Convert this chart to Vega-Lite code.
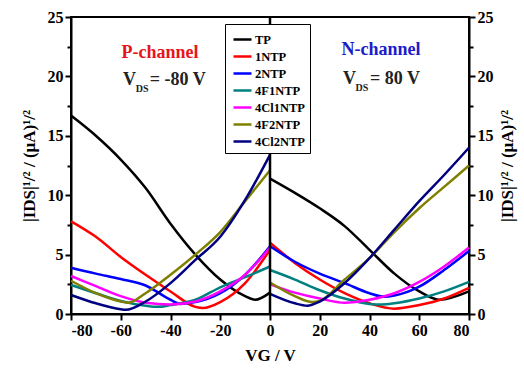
{
  "$schema": "https://vega.github.io/schema/vega-lite/v6.json",
  "width": 398,
  "height": 297,
  "autosize": {"type": "none"},
  "padding": {"left": 71, "top": 17, "right": 55, "bottom": 56},
  "background": "white",
  "datasets": {
    "curves": [
      {"s":"TP","ch":"P","V":-80,"I":16.7},{"s":"TP","ch":"P","V":-70,"I":15.0},{"s":"TP","ch":"P","V":-60,"I":13.0},{"s":"TP","ch":"P","V":-50,"I":10.6},{"s":"TP","ch":"P","V":-40,"I":7.6},{"s":"TP","ch":"P","V":-30,"I":5.0},{"s":"TP","ch":"P","V":-20,"I":2.9},{"s":"TP","ch":"P","V":-10,"I":1.5},{"s":"TP","ch":"P","V":-6,"I":1.2},{"s":"TP","ch":"P","V":0,"I":1.8},
      {"s":"TP","ch":"N","V":0,"I":11.4},{"s":"TP","ch":"N","V":10,"I":10.2},{"s":"TP","ch":"N","V":20,"I":8.9},{"s":"TP","ch":"N","V":30,"I":7.4},{"s":"TP","ch":"N","V":40,"I":5.4},{"s":"TP","ch":"N","V":50,"I":3.4},{"s":"TP","ch":"N","V":60,"I":1.9},{"s":"TP","ch":"N","V":68,"I":1.2},{"s":"TP","ch":"N","V":80,"I":1.9},
      {"s":"1NTP","ch":"P","V":-80,"I":7.8},{"s":"1NTP","ch":"P","V":-70,"I":6.5},{"s":"1NTP","ch":"P","V":-60,"I":4.8},{"s":"1NTP","ch":"P","V":-50,"I":3.3},{"s":"1NTP","ch":"P","V":-40,"I":1.9},{"s":"1NTP","ch":"P","V":-30,"I":0.6},{"s":"1NTP","ch":"P","V":-27,"I":0.5},{"s":"1NTP","ch":"P","V":-20,"I":1.0},{"s":"1NTP","ch":"P","V":-10,"I":2.6},{"s":"1NTP","ch":"P","V":0,"I":5.4},
      {"s":"1NTP","ch":"N","V":0,"I":6.0},{"s":"1NTP","ch":"N","V":10,"I":4.3},{"s":"1NTP","ch":"N","V":20,"I":2.9},{"s":"1NTP","ch":"N","V":30,"I":1.75},{"s":"1NTP","ch":"N","V":40,"I":0.9},{"s":"1NTP","ch":"N","V":50,"I":0.45},{"s":"1NTP","ch":"N","V":60,"I":0.75},{"s":"1NTP","ch":"N","V":70,"I":1.3},{"s":"1NTP","ch":"N","V":80,"I":2.2},
      {"s":"2NTP","ch":"P","V":-80,"I":3.9},{"s":"2NTP","ch":"P","V":-70,"I":3.4},{"s":"2NTP","ch":"P","V":-60,"I":2.95},{"s":"2NTP","ch":"P","V":-50,"I":2.4},{"s":"2NTP","ch":"P","V":-40,"I":1.2},{"s":"2NTP","ch":"P","V":-36,"I":0.85},{"s":"2NTP","ch":"P","V":-30,"I":1.0},{"s":"2NTP","ch":"P","V":-20,"I":1.75},{"s":"2NTP","ch":"P","V":-10,"I":3.3},{"s":"2NTP","ch":"P","V":0,"I":5.7},
      {"s":"2NTP","ch":"N","V":0,"I":5.7},{"s":"2NTP","ch":"N","V":10,"I":4.4},{"s":"2NTP","ch":"N","V":20,"I":3.4},{"s":"2NTP","ch":"N","V":30,"I":2.6},{"s":"2NTP","ch":"N","V":40,"I":1.75},{"s":"2NTP","ch":"N","V":46,"I":1.45},{"s":"2NTP","ch":"N","V":50,"I":1.55},{"s":"2NTP","ch":"N","V":60,"I":2.3},{"s":"2NTP","ch":"N","V":70,"I":3.7},{"s":"2NTP","ch":"N","V":80,"I":5.3},
      {"s":"4F1NTP","ch":"P","V":-80,"I":2.45},{"s":"4F1NTP","ch":"P","V":-70,"I":1.75},{"s":"4F1NTP","ch":"P","V":-60,"I":1.1},{"s":"4F1NTP","ch":"P","V":-50,"I":0.7},{"s":"4F1NTP","ch":"P","V":-45,"I":0.6},{"s":"4F1NTP","ch":"P","V":-40,"I":0.75},{"s":"4F1NTP","ch":"P","V":-30,"I":1.2},{"s":"4F1NTP","ch":"P","V":-20,"I":2.25},{"s":"4F1NTP","ch":"P","V":-10,"I":3.1},{"s":"4F1NTP","ch":"P","V":0,"I":4.0},
      {"s":"4F1NTP","ch":"N","V":0,"I":3.7},{"s":"4F1NTP","ch":"N","V":10,"I":2.9},{"s":"4F1NTP","ch":"N","V":20,"I":2.0},{"s":"4F1NTP","ch":"N","V":30,"I":1.3},{"s":"4F1NTP","ch":"N","V":40,"I":0.85},{"s":"4F1NTP","ch":"N","V":45,"I":0.8},{"s":"4F1NTP","ch":"N","V":50,"I":0.9},{"s":"4F1NTP","ch":"N","V":60,"I":1.3},{"s":"4F1NTP","ch":"N","V":70,"I":1.9},{"s":"4F1NTP","ch":"N","V":80,"I":2.7},
      {"s":"4Cl1NTP","ch":"P","V":-80,"I":3.2},{"s":"4Cl1NTP","ch":"P","V":-70,"I":2.35},{"s":"4Cl1NTP","ch":"P","V":-60,"I":1.5},{"s":"4Cl1NTP","ch":"P","V":-50,"I":0.95},{"s":"4Cl1NTP","ch":"P","V":-40,"I":0.8},{"s":"4Cl1NTP","ch":"P","V":-30,"I":1.05},{"s":"4Cl1NTP","ch":"P","V":-20,"I":1.9},{"s":"4Cl1NTP","ch":"P","V":-10,"I":3.3},{"s":"4Cl1NTP","ch":"P","V":0,"I":5.6},
      {"s":"4Cl1NTP","ch":"N","V":0,"I":2.5},{"s":"4Cl1NTP","ch":"N","V":10,"I":1.8},{"s":"4Cl1NTP","ch":"N","V":20,"I":1.3},{"s":"4Cl1NTP","ch":"N","V":30,"I":0.95},{"s":"4Cl1NTP","ch":"N","V":40,"I":1.2},{"s":"4Cl1NTP","ch":"N","V":50,"I":1.75},{"s":"4Cl1NTP","ch":"N","V":60,"I":2.7},{"s":"4Cl1NTP","ch":"N","V":70,"I":4.0},{"s":"4Cl1NTP","ch":"N","V":80,"I":5.6},
      {"s":"4F2NTP","ch":"P","V":-80,"I":2.8},{"s":"4F2NTP","ch":"P","V":-70,"I":1.75},{"s":"4F2NTP","ch":"P","V":-60,"I":1.05},{"s":"4F2NTP","ch":"P","V":-57,"I":0.95},{"s":"4F2NTP","ch":"P","V":-50,"I":1.75},{"s":"4F2NTP","ch":"P","V":-40,"I":3.3},{"s":"4F2NTP","ch":"P","V":-30,"I":5.0},{"s":"4F2NTP","ch":"P","V":-20,"I":6.9},{"s":"4F2NTP","ch":"P","V":-10,"I":9.5},{"s":"4F2NTP","ch":"P","V":0,"I":12.1},
      {"s":"4F2NTP","ch":"N","V":0,"I":2.65},{"s":"4F2NTP","ch":"N","V":10,"I":1.5},{"s":"4F2NTP","ch":"N","V":17,"I":1.0},{"s":"4F2NTP","ch":"N","V":20,"I":1.1},{"s":"4F2NTP","ch":"N","V":30,"I":2.9},{"s":"4F2NTP","ch":"N","V":40,"I":4.7},{"s":"4F2NTP","ch":"N","V":50,"I":6.9},{"s":"4F2NTP","ch":"N","V":60,"I":8.9},{"s":"4F2NTP","ch":"N","V":70,"I":10.7},{"s":"4F2NTP","ch":"N","V":80,"I":12.5},
      {"s":"4Cl2NTP","ch":"P","V":-80,"I":1.6},{"s":"4Cl2NTP","ch":"P","V":-70,"I":0.9},{"s":"4Cl2NTP","ch":"P","V":-60,"I":0.4},{"s":"4Cl2NTP","ch":"P","V":-58,"I":0.35},{"s":"4Cl2NTP","ch":"P","V":-50,"I":1.05},{"s":"4Cl2NTP","ch":"P","V":-40,"I":2.6},{"s":"4Cl2NTP","ch":"P","V":-30,"I":4.55},{"s":"4Cl2NTP","ch":"P","V":-20,"I":6.5},{"s":"4Cl2NTP","ch":"P","V":-10,"I":9.6},{"s":"4Cl2NTP","ch":"P","V":0,"I":13.4},
      {"s":"4Cl2NTP","ch":"N","V":0,"I":1.7},{"s":"4Cl2NTP","ch":"N","V":10,"I":0.9},{"s":"4Cl2NTP","ch":"N","V":15,"I":0.7},{"s":"4Cl2NTP","ch":"N","V":20,"I":1.05},{"s":"4Cl2NTP","ch":"N","V":30,"I":2.6},{"s":"4Cl2NTP","ch":"N","V":40,"I":4.7},{"s":"4Cl2NTP","ch":"N","V":50,"I":7.1},{"s":"4Cl2NTP","ch":"N","V":60,"I":9.5},{"s":"4Cl2NTP","ch":"N","V":70,"I":11.7},{"s":"4Cl2NTP","ch":"N","V":80,"I":14.0}
    ]
  },
  "layer": [
    {
      "data": {"name": "curves"},
      "mark": {"type": "line", "strokeWidth": 2.5, "interpolate": "monotone"},
      "encoding": {
        "x": {"field": "V", "type": "quantitative", "scale": {"domain": [-80, 80], "nice": false},
          "axis": {"title": "VG / V", "values": [-80,-70,-60,-50,-40,-30,-20,-10,0,10,20,30,40,50,60,70,80],
            "labelExpr": "datum.value % 20 === 0 ? '' + datum.value : ''",
            "tickSize": {"condition": {"test": "datum.value % 20 === 0", "value": 6}, "value": 4},
            "labelPadding": 2, "titlePadding": 9}},
        "y": {"field": "I", "type": "quantitative", "scale": {"domain": [0, 25], "nice": false},
          "axis": {"orient": "left", "title": "|IDS|¹/² / (μA)¹/²", "values": [0,2.5,5,7.5,10,12.5,15,17.5,20,22.5,25],
            "labelExpr": "datum.value % 5 === 0 ? '' + datum.value : ''",
            "tickSize": {"condition": {"test": "datum.value % 5 === 0", "value": 6}, "value": 4},
            "labelPadding": 2, "titlePadding": 9}},
        "color": {"field": "s", "type": "nominal",
          "scale": {"domain": ["TP","1NTP","2NTP","4F1NTP","4Cl1NTP","4F2NTP","4Cl2NTP"],
                    "range": ["#000000","#ff0000","#0000ff","#008080","#ff00ff","#808000","#000080"]},
          "legend": {"orient": "none", "legendX": 154, "legendY": 7, "title": null,
            "fillColor": "white", "strokeColor": "black", "padding": 5,
            "symbolType": "stroke", "symbolSize": 324, "symbolStrokeWidth": 2.5,
            "labelFont": "Liberation Serif", "labelFontWeight": "bold", "labelFontSize": 12.5, "labelColor": "black",
            "rowPadding": 0, "symbolOffset": 2, "labelOffset": 2}},
        "detail": {"field": "ch", "type": "nominal"}
      }
    },
    {
      "data": {"values": [{"V": 0}]},
      "mark": {"type": "rule", "color": "black", "strokeWidth": 2.5},
      "encoding": {"x": {"field": "V", "type": "quantitative"}}
    },
    {
      "data": {"values": [{"V": 0, "I": 0}]},
      "mark": {"type": "point", "opacity": 0},
      "encoding": {
        "x": {"field": "V", "type": "quantitative"},
        "y": {"field": "I", "type": "quantitative",
          "axis": {"orient": "right", "title": "|IDS|¹/² / (μA)¹/²", "titleAngle": 270, "titleBaseline": "top", "values": [0,2.5,5,7.5,10,12.5,15,17.5,20,22.5,25],
            "labelExpr": "datum.value % 5 === 0 ? '' + datum.value : ''",
            "tickSize": {"condition": {"test": "datum.value % 5 === 0", "value": 6}, "value": 4},
            "labelPadding": 2, "titlePadding": 6}}
      }
    },
    {
      "data": {"values": [{"V": -44.2, "I": 22.0, "t": "P-channel"}]},
      "mark": {"type": "text", "color": "#e8141c", "font": "Liberation Serif", "fontWeight": "bold", "fontSize": 18, "align": "center", "baseline": "middle"},
      "encoding": {"x": {"field": "V", "type": "quantitative"}, "y": {"field": "I", "type": "quantitative", "axis": null}, "text": {"field": "t"}}
    },
    {
      "data": {"values": [{"V": 44.6, "I": 22.2, "t": "N-channel"}]},
      "mark": {"type": "text", "color": "#1c1cc8", "font": "Liberation Serif", "fontWeight": "bold", "fontSize": 18, "align": "center", "baseline": "middle"},
      "encoding": {"x": {"field": "V", "type": "quantitative"}, "y": {"field": "I", "type": "quantitative", "axis": null}, "text": {"field": "t"}}
    },
    {
      "data": {"values": [{"V": -59.1, "I": 19.7, "t": "V"}, {"V": -48.3, "I": 19.7, "t": "= -80 V"}, {"V": 29.3, "I": 19.8, "t": "V"}, {"V": 40.2, "I": 19.8, "t": "= 80 V"}]},
      "mark": {"type": "text", "color": "#222222", "font": "Liberation Serif", "fontWeight": "bold", "fontSize": 18, "align": "left", "baseline": "middle"},
      "encoding": {"x": {"field": "V", "type": "quantitative"}, "y": {"field": "I", "type": "quantitative", "axis": null}, "text": {"field": "t"}}
    },
    {
      "data": {"values": [{"V": -54.0, "I": 18.9, "t": "DS"}, {"V": 34.4, "I": 19.0, "t": "DS"}]},
      "mark": {"type": "text", "color": "#222222", "font": "Liberation Serif", "fontWeight": "bold", "fontSize": 10, "align": "left", "baseline": "middle"},
      "encoding": {"x": {"field": "V", "type": "quantitative"}, "y": {"field": "I", "type": "quantitative", "axis": null}, "text": {"field": "t"}}
    }
  ],
  "resolve": {"axis": {"y": "independent"}},
  "config": {
    "view": {"stroke": "black", "strokeWidth": 2},
    "axis": {"domainColor": "black", "domainWidth": 2, "tickColor": "black", "tickWidth": 2,
      "labelFont": "Liberation Serif", "labelFontWeight": "bold", "labelFontSize": 16, "labelColor": "black",
      "titleFont": "Liberation Serif", "titleFontWeight": "bold", "titleFontSize": 17, "titleColor": "black", "grid": false}
  }
}
